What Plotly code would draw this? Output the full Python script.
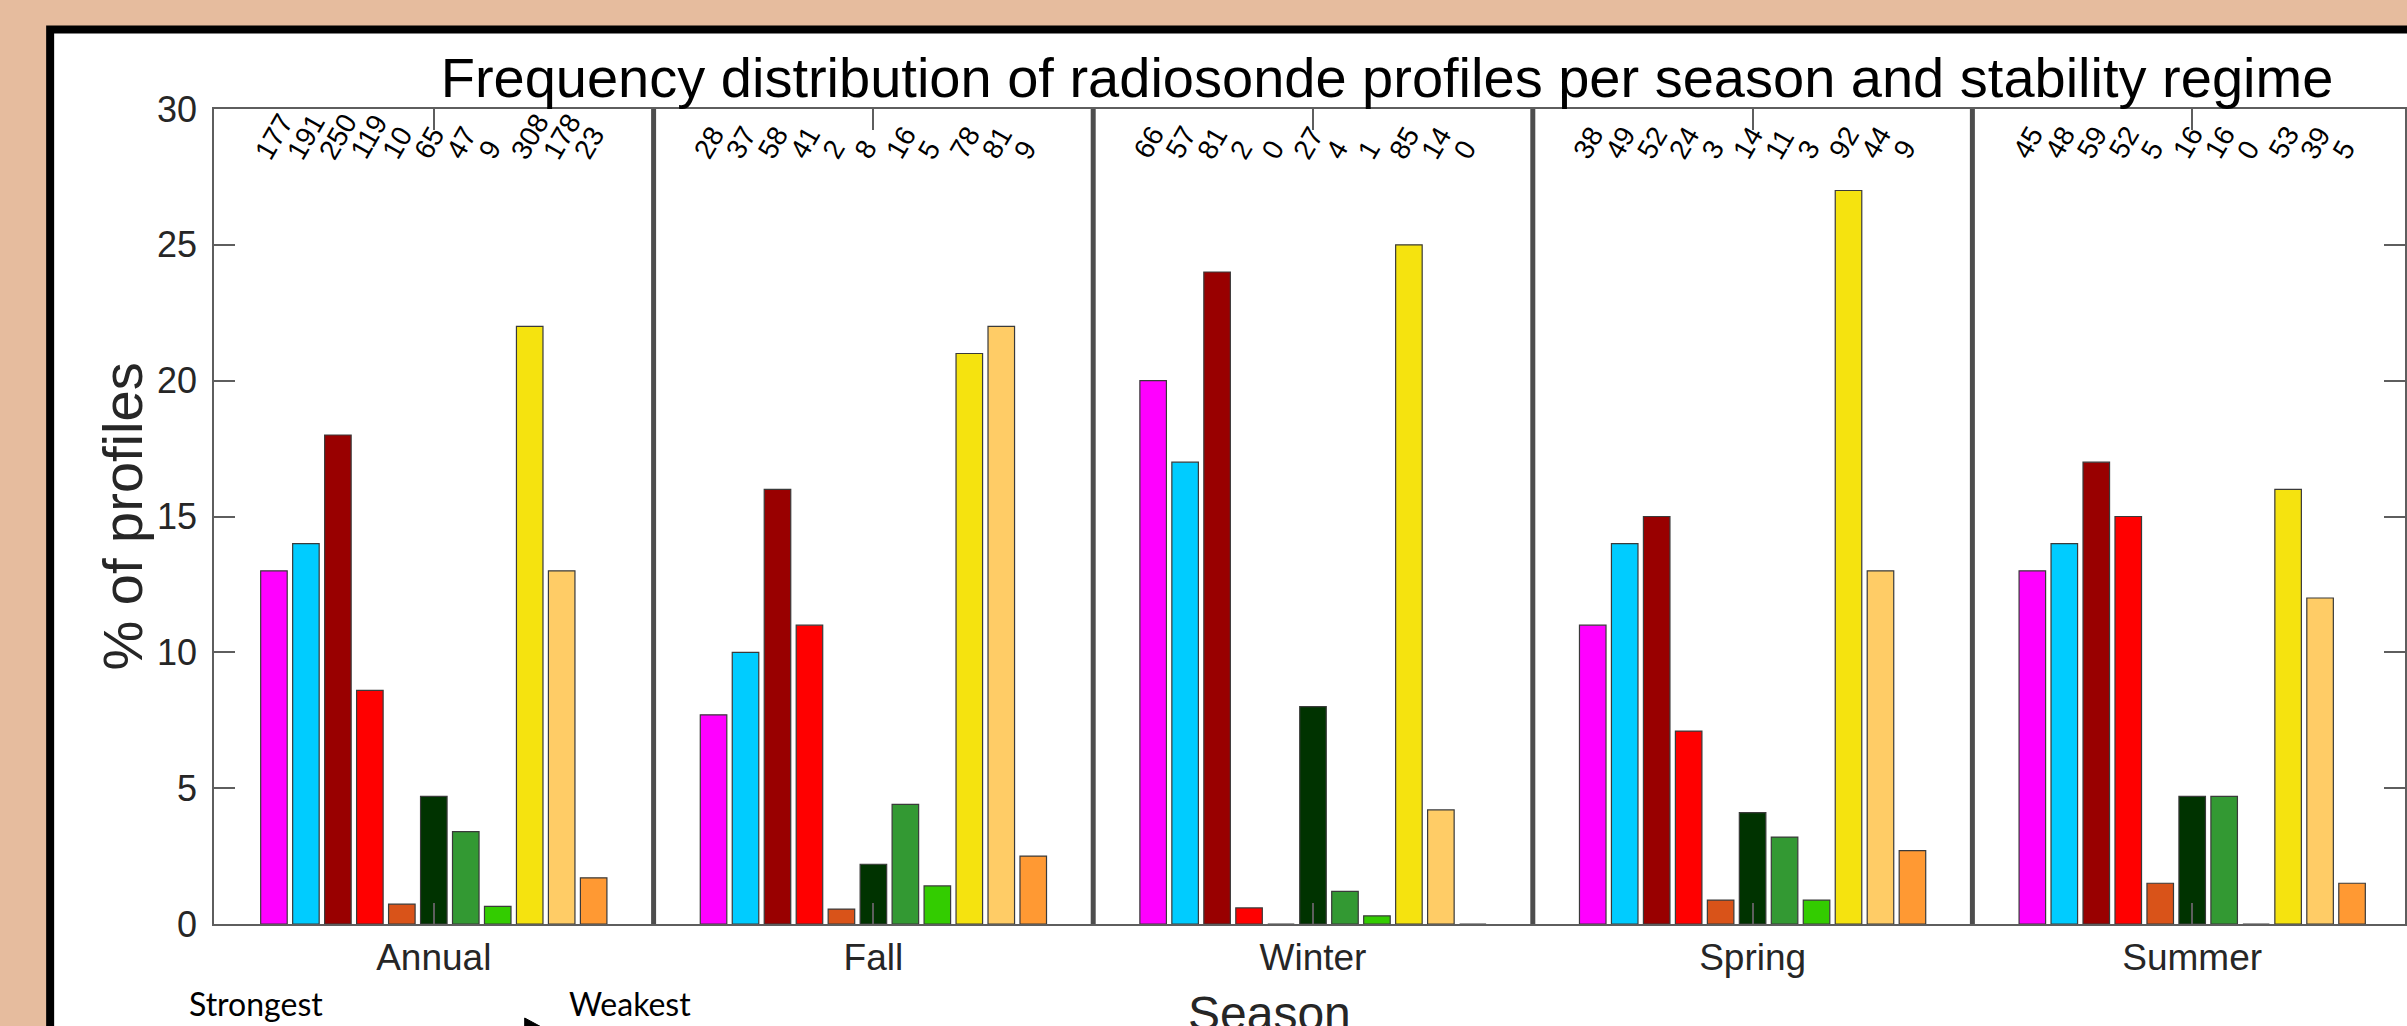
import plotly.graph_objects as go

# ---------------- data ----------------
seasons = ["Annual", "Fall", "Winter", "Spring", "Summer"]
regimes = ["Regime 1", "Regime 2", "Regime 3", "Regime 4", "Regime 5", "Regime 6",
           "Regime 7", "Regime 8", "Regime 9", "Regime 10", "Regime 11"]
regime_colors = ["#FF00FF", "#00CCFF", "#990000", "#FF0000", "#D95319", "#003300",
                 "#339933", "#33CC00", "#F5E30F", "#FFCC66", "#FF9933"]

pct_annual = [13, 14, 18, 8.6, 0.73, 4.7, 3.4, 0.65, 22, 13, 1.7]
pct_fall   = [7.7, 10, 16, 11, 0.55, 2.2, 4.4, 1.4, 21, 22, 2.5]
pct_winter = [20, 17, 24, 0.59, 0, 8.0, 1.2, 0.30, 25, 4.2, 0]
pct_spring = [11, 14, 15, 7.1, 0.88, 4.1, 3.2, 0.88, 27, 13, 2.7]
pct_summer = [13, 14, 17, 15, 1.5, 4.7, 4.7, 0, 16, 12, 1.5]

n_annual = [177, 191, 250, 119, 10, 65, 47, 9, 308, 178, 23]
n_fall   = [28, 37, 58, 41, 2, 8, 16, 5, 78, 81, 9]
n_winter = [66, 57, 81, 2, 0, 27, 4, 1, 85, 14, 0]
n_spring = [38, 49, 52, 24, 3, 14, 11, 3, 92, 44, 9]
n_summer = [45, 48, 59, 52, 5, 16, 16, 0, 53, 39, 5]

y_ticks = [0, 5, 10, 15, 20, 25, 30]

pct = [pct_annual, pct_fall, pct_winter, pct_spring, pct_summer]
counts = [n_annual, n_fall, n_winter, n_spring, n_summer]

# ---------------- layout geometry (pixels) ----------------
W, H = 2407, 1026
ML, MT, MB, MR = 214, 109, 102, 0
PW, PH = W - ML - MR, H - MT - MB
GROUP_PX = 440
BARGAP = 0.2
SLOT = (1 - BARGAP) / len(regimes)

def px_x(px):
    return (px - ML) / PW

def px_y(py):
    return (H - MB - py) / PH

FONT = "Liberation Sans, Arial, Helvetica, sans-serif"
PEACH = "#E6BC9E"
AXIS_C = "#5E5E5E"
TXT_C = "#262626"

fig = go.Figure()
for j, name in enumerate(regimes):
    fig.add_trace(go.Bar(
        x=seasons,
        y=[pct[k][j] for k in range(len(seasons))],
        name=name,
        marker=dict(color=regime_colors[j], line=dict(color="#3A3A3A", width=1.2)),
        showlegend=False,
    ))

annotations = []
# count labels above each bar group
for k in range(len(seasons)):
    for j in range(len(regimes)):
        annotations.append(dict(
            x=k + (j - (len(regimes) - 1) / 2) * SLOT, xref="x",
            y=27.87, yref="y",
            text=str(counts[k][j]), showarrow=False,
            textangle=-60, xanchor="left", yanchor="bottom", xshift=-28,
            font=dict(family=FONT, size=28, color="#000000"),
        ))

# y-axis title
annotations.append(dict(
    x=0, xref="paper", y=0.5, yref="paper", xanchor="center", yanchor="middle",
    xshift=122 - ML, text="% of profiles", textangle=-90, showarrow=False,
    font=dict(family=FONT, size=56, color=TXT_C),
))
# x-axis title
annotations.append(dict(
    x=px_x(1270), xref="paper", y=px_y(985), yref="paper",
    xanchor="center", yanchor="top", text="Season", showarrow=False,
    font=dict(family=FONT, size=48, color=TXT_C),
))
# Strongest / Weakest
annotations.append(dict(
    x=px_x(187), xref="paper", y=px_y(982), yref="paper",
    xanchor="left", yanchor="top", text="Strongest", showarrow=False,
    font=dict(family="Lato, Carlito, sans-serif", size=32, color="#000000"),
))
annotations.append(dict(
    x=px_x(567), xref="paper", y=px_y(982), yref="paper",
    xanchor="left", yanchor="top", text="Weakest", showarrow=False,
    font=dict(family="Lato, Carlito, sans-serif", size=32, color="#000000"),
))

shapes = []
# white panel with black frame
shapes.append(dict(
    type="rect", xref="paper", yref="paper",
    x0=px_x(50), x1=px_x(2500), y0=px_y(1100), y1=px_y(29.5),
    line=dict(color="#000000", width=8), fillcolor="#FFFFFF", layer="below",
))
# separators between seasons
for k in range(len(seasons) - 1):
    shapes.append(dict(
        type="line", xref="x", yref="y", x0=k + 0.5, x1=k + 0.5,
        y0=y_ticks[0], y1=y_ticks[-1],
        line=dict(color="#4D4D4D", width=5), layer="above",
    ))
# arrow (Strongest -> Weakest)
shapes.append(dict(
    type="line", xref="paper", yref="paper",
    x0=px_x(330), x1=px_x(530), y0=px_y(1032), y1=px_y(1032),
    line=dict(color="#000000", width=3),
))
shapes.append(dict(
    type="path", xref="paper", yref="paper",
    path="M {:.5f} {:.5f} L {:.5f} {:.5f} L {:.5f} {:.5f} Z".format(
        px_x(525), px_y(1018), px_x(551), px_y(1032), px_x(525), px_y(1046)),
    fillcolor="#000000", line=dict(color="#000000", width=1),
))

fig.update_layout(
    width=W, height=H,
    margin=dict(l=ML, r=MR, t=MT, b=MB, pad=0),
    paper_bgcolor=PEACH, plot_bgcolor="#FFFFFF",
    barmode="group", bargap=BARGAP, bargroupgap=0.17,
    title=dict(
        text="Frequency distribution of radiosonde profiles per season and stability regime",
        x=1387 / W, xref="container", xanchor="center",
        y=1 - 77 / H, yref="container", yanchor="middle",
        font=dict(family=FONT, size=56, color="#000000"),
    ),
    annotations=annotations,
    shapes=shapes,
    showlegend=False,
)
fig.update_xaxes(
    type="category", range=[-0.5, -0.5 + PW / GROUP_PX],
    showline=True, linecolor=AXIS_C, linewidth=1.5, mirror="ticks",
    ticks="inside", ticklen=21, tickcolor=AXIS_C, tickwidth=1.5,
    showgrid=False, zeroline=False,
    tickfont=dict(family=FONT, size=37, color=TXT_C), ticklabelstandoff=0,
)
fig.update_yaxes(
    range=[y_ticks[0], y_ticks[-1]], tickvals=y_ticks,
    showline=True, linecolor=AXIS_C, linewidth=1.5, mirror="ticks",
    ticks="inside", ticklen=21, tickcolor=AXIS_C, tickwidth=1.5,
    showgrid=False, zeroline=False,
    tickfont=dict(family=FONT, size=36, color=TXT_C), ticklabelstandoff=8,
)

fig.write_html("out.html")
